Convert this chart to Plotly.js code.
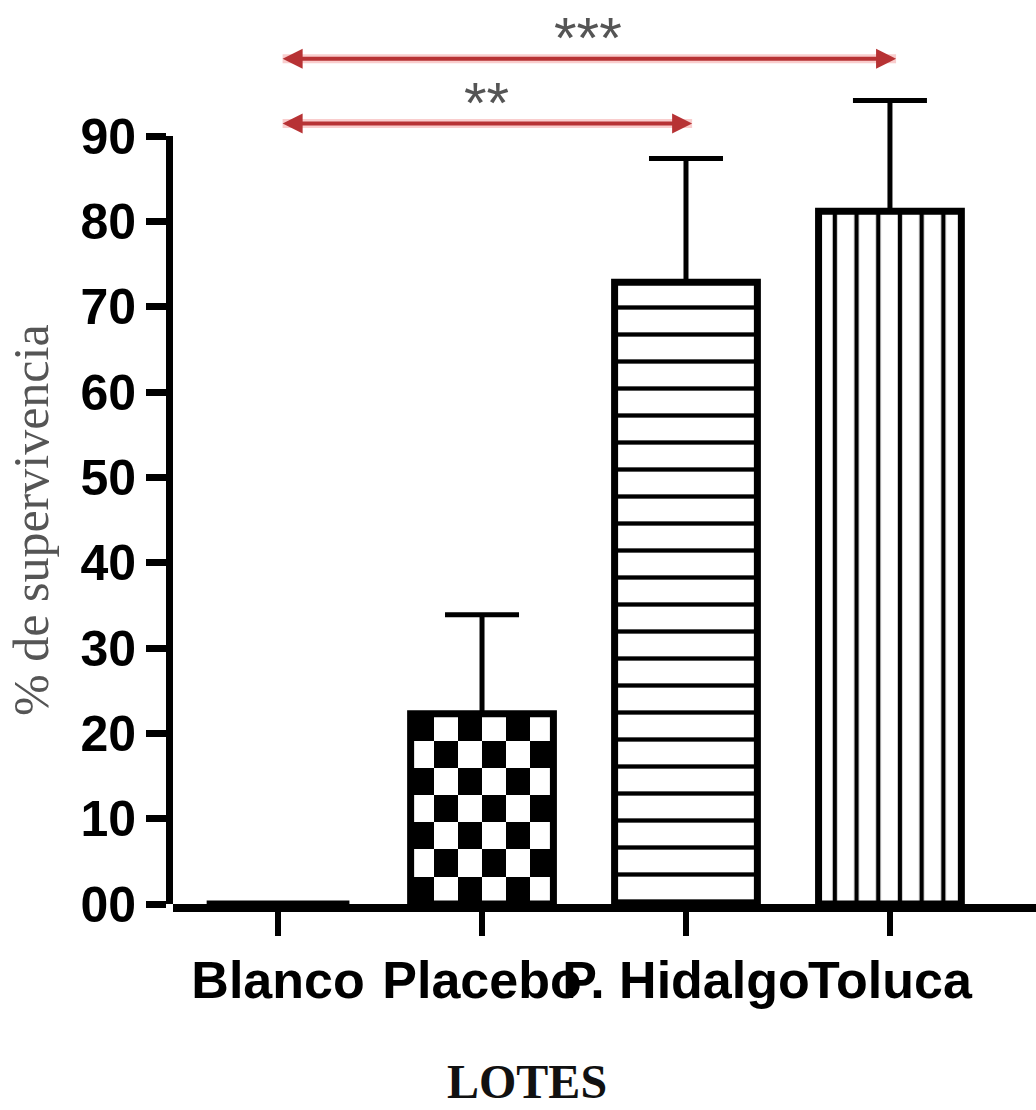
<!DOCTYPE html>
<html>
<head>
<meta charset="utf-8">
<script src="https://cdn.plot.ly/plotly-3.0.1.min.js"></script>
<style>
  html, body { margin: 0; padding: 0; background: #ffffff; }
  #chart { width: 1036px; height: 1110px; }
</style>
</head>
<body>
<div id="chart"></div>
<script>
// ---- data ----
const categories = ['Blanco', 'Placebo', 'P. Hidalgo', 'Toluca'];
const survival = [0, 22.3, 72.9, 81.2];
const errorUpper = [0, 11.6, 14.5, 13.0];
const yTickValues = [0, 10, 20, 30, 40, 50, 60, 70, 80, 90];
const yTickLabels = ['00', '10', '20', '30', '40', '50', '60', '70', '80', '90'];
const compFrom = [0, 0];
const compTo = [2, 3];
const compLabels = ['**', '***'];
const compLevels = [91.5, 99.1];

// ---- styling constants ----
const barWidth = 0.70;
const axisMax = 90;      // visible axis top
const plotMax = 100;     // room above for error bars / brackets
const fillColors = ['#ffffff', 'rgba(0,0,0,0)', '#ffffff', '#ffffff'];
const patternShapes = ['', '', '-', '|'];
const patternSizes = [10, 10, 27, 21.7];
const patternSolidity = [0.2, 0.2, 0.16, 0.2];
const idx = categories.map((c, i) => i);

// checkerboard fill for the Placebo bar (pattern built from the bar's own value)
const checkCols = 6, checkRows = 7;
const pIdx = 1;
const checkZ = [];
for (let r = 0; r < checkRows; r++) {
  const row = [];
  for (let c = 0; c < checkCols; c++) row.push((r + c) % 2 === 0 ? 1 : 0);
  checkZ.push(row);
}
const cdx = barWidth / checkCols;
const cdy = survival[pIdx] / checkRows;

const traces = [];
traces.push({
  type: 'heatmap',
  z: checkZ,
  x0: idx[pIdx] - barWidth / 2 + cdx / 2,
  dx: cdx,
  y0: cdy / 2,
  dy: cdy,
  zmin: 0, zmax: 1,
  colorscale: [[0, '#ffffff'], [1, '#000000']],
  showscale: false,
  hoverinfo: 'skip',
  zsmooth: false
});

idx.forEach(i => {
  const marker = {
    color: fillColors[i],
    line: { color: '#000000', width: 7 }
  };
  if (patternShapes[i]) {
    marker.pattern = {
      shape: patternShapes[i],
      size: patternSizes[i],
      solidity: patternSolidity[i],
      fgcolor: '#000000',
      bgcolor: '#ffffff',
      fillmode: 'replace'
    };
  }
  traces.push({
    type: 'bar',
    name: categories[i],
    x: [idx[i]],
    y: [survival[i]],
    width: barWidth,
    cliponaxis: false,
    marker: marker,
    error_y: {
      type: 'data',
      symmetric: false,
      array: [errorUpper[i]],
      arrayminus: [0],
      color: '#000000',
      thickness: 5,
      width: 37
    },
    hoverinfo: 'skip'
  });
});

// empty trace so the visible 0-90 axis gets drawn
traces.push({ type: 'scatter', x: [], y: [], yaxis: 'y2', hoverinfo: 'skip' });

const annotations = [];
const tipOffset = 0.03;
compFrom.forEach((f, i) => {
  const base = {
    xref: 'x', yref: 'y', axref: 'x', ayref: 'y',
    x: compTo[i] + tipOffset, y: compLevels[i],
    ax: compFrom[i] + 0.015, ay: compLevels[i],
    text: '', showarrow: true,
    arrowsize: 1, startarrowsize: 1, standoff: 0, startstandoff: 0
  };
  annotations.push(Object.assign({}, base, {
    arrowside: 'none', arrowcolor: 'rgba(235,80,80,0.28)', arrowwidth: 9
  }));
  annotations.push(Object.assign({}, base, {
    arrowside: 'end+start', arrowhead: 2, startarrowhead: 2,
    arrowcolor: '#b73234', arrowwidth: 4
  }));
  annotations.push({
    xref: 'x', yref: 'paper',
    x: (compFrom[i] + compTo[i]) / 2 + 0.02, y: (compLevels[i] + 6.5) / plotMax,
    text: compLabels[i], showarrow: false,
    xanchor: 'center', yanchor: 'top',
    font: { family: 'Liberation Sans', size: 58, color: '#555555' }
  });
});
annotations.push({
  xref: 'paper', yref: 'paper',
  x: 0.41, y: -0.208,
  text: 'LOTES', showarrow: false,
  xanchor: 'center', yanchor: 'middle',
  font: { family: 'Liberation Serif', size: 48, color: '#111111', weight: 700 }
});

const layout = {
  width: 1036,
  height: 1110,
  margin: { l: 173, r: 0, t: 51, b: 206 },
  paper_bgcolor: '#ffffff',
  plot_bgcolor: 'rgba(0,0,0,0)',
  showlegend: false,
  barmode: 'overlay',
  xaxis: {
    range: [-0.515, 3.716],
    tickmode: 'array',
    tickvals: idx,
    ticktext: categories,
    tickangle: 0,
    ticks: 'outside',
    ticklen: 24,
    tickwidth: 6,
    tickcolor: '#000000',
    showline: true,
    linewidth: 8,
    linecolor: '#000000',
    showgrid: false,
    zeroline: false,
    tickfont: { family: 'Liberation Sans', size: 52, color: '#000000', weight: 700 }
  },
  yaxis: {
    range: [0, plotMax],
    domain: [0, 1],
    visible: false,
    showgrid: false,
    zeroline: false
  },
  yaxis2: {
    anchor: 'x',
    domain: [0, axisMax / plotMax],
    range: [0, axisMax],
    tickmode: 'array',
    tickvals: yTickValues,
    ticktext: yTickLabels,
    ticks: 'outside',
    ticklen: 20,
    tickwidth: 7,
    tickcolor: '#000000',
    showline: true,
    linewidth: 7,
    linecolor: '#000000',
    showgrid: false,
    zeroline: false,
    tickfont: { family: 'Liberation Sans', size: 50, color: '#000000', weight: 700 },
    title: {
      text: '% de supervivencia',
      font: { family: 'Liberation Serif', size: 50, color: '#555555' },
      standoff: 18
    }
  },
  annotations: annotations
};

Plotly.newPlot('chart', traces, layout, { displayModeBar: false, staticPlot: true });
</script>
</body>
</html>
